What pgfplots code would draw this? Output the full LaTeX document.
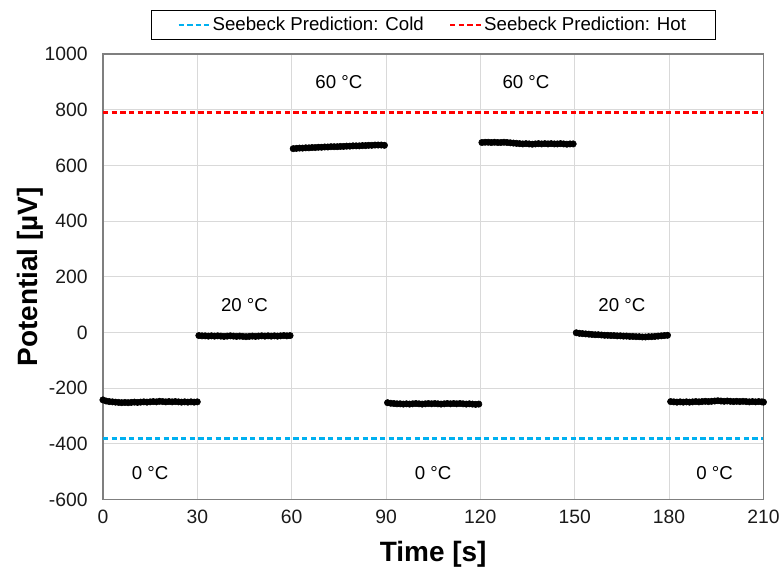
\documentclass[border=0pt]{standalone}
\usepackage{fontspec}
\setmainfont{Liberation Sans}
\usepackage{pgfplots}
\pgfplotsset{compat=1.18}
\usepackage{pgfplotstable}

\definecolor{coldblue}{HTML}{00B0F0}
\definecolor{hotred}{HTML}{FF0000}
\definecolor{gridgray}{HTML}{D9D9D9}
\definecolor{framegray}{HTML}{7F7F7F}
\definecolor{labelblack}{HTML}{1A1A1A}

% Measured potential, one reading per second across the seven temperature steps
\pgfplotstableread{
t v
0 -242
1 -246
2 -248
3 -249
4 -250
5 -251
6 -252
7 -251
8 -252
9 -251
10 -250
11 -251
12 -250
13 -249
14 -250
15 -249
16 -248
17 -249
18 -247
19 -248
20 -249
21 -248
22 -249
23 -248
24 -249
25 -250
26 -249
27 -250
28 -249
29 -250
30 -249
30.5 -11
31.5 -12
32.5 -12
33.5 -13
34.5 -12
35.5 -13
36.5 -12
37.5 -13
38.5 -14
39.5 -13
40.5 -12
41.5 -13
42.5 -14
43.5 -13
44.5 -14
45.5 -15
46.5 -14
47.5 -13
48.5 -14
49.5 -13
50.5 -12
51.5 -13
52.5 -12
53.5 -13
54.5 -12
55.5 -13
56.5 -12
57.5 -11
58.5 -12
59.5 -11
60.5 660
61.5 661
62.5 662
63.5 662
64.5 663
65.5 663
66.5 664
67.5 664
68.5 665
69.5 665
70.5 666
71.5 666
72.5 667
73.5 667
74.5 667
75.5 668
76.5 668
77.5 669
78.5 669
79.5 670
80.5 670
81.5 670
82.5 671
83.5 671
84.5 672
85.5 672
86.5 673
87.5 673
88.5 673
89.5 672
90.5 -252
91.5 -254
92.5 -255
93.5 -256
94.5 -256
95.5 -257
96.5 -256
97.5 -257
98.5 -256
99.5 -255
100.5 -256
101.5 -257
102.5 -256
103.5 -255
104.5 -256
105.5 -255
106.5 -256
107.5 -257
108.5 -256
109.5 -255
110.5 -256
111.5 -255
112.5 -256
113.5 -255
114.5 -256
115.5 -257
116.5 -256
117.5 -257
118.5 -258
119.5 -257
120.5 682
121.5 683
122.5 683
123.5 682
124.5 683
125.5 682
126.5 682
127.5 683
128.5 682
129.5 681
130.5 680
131.5 679
132.5 678
133.5 677
134.5 678
135.5 677
136.5 676
137.5 677
138.5 678
139.5 677
140.5 678
141.5 677
142.5 678
143.5 677
144.5 677
145.5 678
146.5 677
147.5 676
148.5 677
149.5 677
150.5 -1
151.5 -3
152.5 -4
153.5 -5
154.5 -6
155.5 -7
156.5 -8
157.5 -8
158.5 -9
159.5 -10
160.5 -10
161.5 -11
162.5 -11
163.5 -12
164.5 -12
165.5 -13
166.5 -13
167.5 -14
168.5 -14
169.5 -15
170.5 -15
171.5 -16
172.5 -16
173.5 -15
174.5 -15
175.5 -14
176.5 -13
177.5 -12
178.5 -11
179.5 -10
180.5 -248
181.5 -249
182.5 -250
183.5 -249
184.5 -250
185.5 -249
186.5 -250
187.5 -249
188.5 -248
189.5 -249
190.5 -248
191.5 -247
192.5 -248
193.5 -247
194.5 -246
195.5 -245
196.5 -246
197.5 -247
198.5 -246
199.5 -247
200.5 -248
201.5 -247
202.5 -248
203.5 -247
204.5 -248
205.5 -249
206.5 -248
207.5 -249
208.5 -248
209.5 -249
210 -250
}\measured

\begin{document}
\begin{tikzpicture}
\begin{axis}[
  name=ax,
  scale only axis,
  width=495.75pt, height=334.5pt,
  xmin=0, xmax=210, ymin=-600, ymax=1000,
  xtick={0,30,...,210}, ytick={-600,-400,...,1000},
  grid=major,
  major grid style={gridgray, line width=0.75pt},
  axis line style={framegray, line width=0.9pt},
  major tick length=0pt,
  tick label style={font=\fontsize{14.5}{17}\selectfont, labelblack},
  /pgf/number format/assume math mode=true,
  /pgf/number format/1000 sep={},
  yticklabel style={xshift=-8pt},
  xticklabel style={yshift=-4pt},
  xlabel={Time [s]},
  ylabel={Potential [µV]},
  label style={font=\fontsize{21}{25}\selectfont\bfseries},
  xlabel style={at={(axis description cs:0.5,-0.1233)}, anchor=center},
  ylabel style={at={(axis description cs:-0.1104,0.5)}, anchor=center},
  legend columns=2,
  legend style={at={(axis description cs:0.5,1)}, anchor=south, yshift=10.5pt,
    draw=black, line width=0.6pt, font=\fontsize{14}{16}\selectfont,
    inner xsep=20pt, inner ysep=3pt,
    /tikz/every even column/.append style={column sep=17pt}},
  legend cell align=left,
  legend image code/.code={\draw[#1, line width=1.3pt] (2pt,0pt) -- (25pt,0pt);},
]
  \addplot[coldblue, line width=1.8pt, dash pattern=on 4pt off 2.5pt]
    coordinates {(0,-380) (210,-380)};
  \addlegendentry{Seebeck Prediction: Cold}
  \addplot[hotred, line width=1.8pt, dash pattern=on 4pt off 2.5pt]
    coordinates {(0,790) (210,790)};
  \addlegendentry{Seebeck Prediction: Hot}

  \addplot[only marks, mark=*, mark size=2.4pt, black, forget plot]
    table[x=t, y=v] {\measured};

  \begin{scope}[every node/.style={font=\fontsize{14}{16}\selectfont}]
    \node at (axis cs:15,-503) {0 °C};
    \node at (axis cs:45,100) {20 °C};
    \node at (axis cs:75,900) {60 °C};
    \node at (axis cs:105,-503) {0 °C};
    \node at (axis cs:134.5,900) {60 °C};
    \node at (axis cs:165,100) {20 °C};
    \node at (axis cs:194.5,-503) {0 °C};
  \end{scope}
\end{axis}
\path ([xshift=-77.25pt,yshift=-54.75pt]ax.south west)
  rectangle ([xshift=15pt,yshift=40.5pt]ax.north east);
\end{tikzpicture}
\end{document}
